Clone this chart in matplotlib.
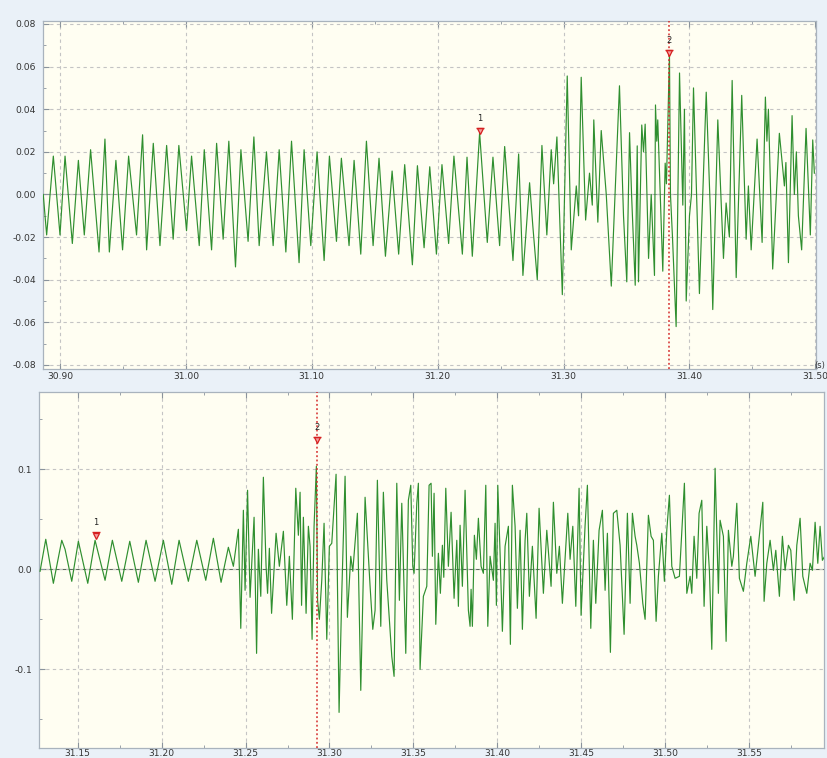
import matplotlib
matplotlib.use("Agg")
import matplotlib.pyplot as plt
from matplotlib.ticker import MultipleLocator, FormatStrFormatter, FixedLocator
import matplotlib.transforms as mtransforms

# ---------------- data ----------------
# upper record: time (s) of each extremum and its value
top_t = [30.8867, 30.8894, 30.8947, 30.9000, 30.9040, 30.9098, 30.9146, 30.9193, 30.9243, 30.9310,
         30.9357, 30.9392, 30.9444, 30.9497, 30.9545, 30.9608, 30.9656, 30.9688, 30.9741, 30.9794,
         30.9847, 30.9899, 30.9944, 31.0005, 31.0045, 31.0106, 31.0146, 31.0204, 31.0244, 31.0296,
         31.0341, 31.0394, 31.0437, 31.0494, 31.0540, 31.0582, 31.0640, 31.0693, 31.0741, 31.0794,
         31.0839, 31.0899, 31.0939, 31.0992, 31.1042, 31.1098, 31.1140, 31.1196, 31.1235, 31.1296,
         31.1336, 31.1389, 31.1434, 31.1487, 31.1534, 31.1585, 31.1638, 31.1690, 31.1738, 31.1799,
         31.1839, 31.1892, 31.1937, 31.1990, 31.2034, 31.2087, 31.2129, 31.2196, 31.2233, 31.2275,
         31.2333, 31.2394, 31.2439, 31.2492, 31.2532, 31.2598, 31.2643, 31.2677, 31.2730, 31.2756,
         31.2791, 31.2828, 31.2867, 31.2902, 31.2921, 31.2947, 31.2990, 31.3029, 31.3061, 31.3101,
         31.3119, 31.3140, 31.3175, 31.3206, 31.3228, 31.3240, 31.3272, 31.3299, 31.3339, 31.3379,
         31.3444, 31.3476, 31.3502, 31.3524, 31.3540, 31.3569, 31.3585, 31.3595, 31.3621, 31.3635,
         31.3648, 31.3675, 31.3696, 31.3722, 31.3730, 31.3740, 31.3748, 31.3788, 31.3807, 31.3817,
         31.3841, 31.3849, 31.3865, 31.3894, 31.3921, 31.3947, 31.3960, 31.3974, 31.4000, 31.4016,
         31.4032, 31.4079, 31.4133, 31.4167, 31.4185, 31.4225, 31.4270, 31.4291, 31.4317, 31.4339,
         31.4371, 31.4415, 31.4450, 31.4468, 31.4490, 31.4537, 31.4577, 31.4603, 31.4615, 31.4627,
         31.4661, 31.4714, 31.4754, 31.4766, 31.4786, 31.4815, 31.4833, 31.4849, 31.4865, 31.4891,
         31.4926, 31.4960, 31.4979, 31.4992]
top_v = [0.000, -0.019, 0.018, -0.019, 0.018, -0.023, 0.016, -0.019, 0.021, -0.027,
         0.026, -0.027, 0.016, -0.026, 0.018, -0.019, 0.028, -0.026, 0.024, -0.024,
         0.023, -0.021, 0.023, -0.017, 0.018, -0.024, 0.021, -0.026, 0.024, -0.021,
         0.025, -0.034, 0.021, -0.022, 0.027, -0.024, 0.020, -0.024, 0.021, -0.027,
         0.025, -0.032, 0.021, -0.024, 0.020, -0.031, 0.018, -0.022, 0.017, -0.024,
         0.016, -0.028, 0.025, -0.024, 0.017, -0.029, 0.011, -0.028, 0.014, -0.033,
         0.0135, -0.025, 0.013, -0.028, 0.014, -0.023, 0.018, -0.028, 0.0175, -0.029,
         0.029, -0.0225, 0.0175, -0.024, 0.0225, -0.031, 0.019, -0.038, 0.0055, -0.015,
         -0.040, 0.023, -0.019, 0.021, 0.005, 0.027, -0.047, 0.0556, -0.026, 0.004,
         -0.010, 0.055, -0.012, 0.010, -0.005, 0.035, -0.013, 0.030, 0.000, -0.043,
         0.051, -0.010, -0.041, 0.029, 0.000, -0.0426, 0.0228, -0.041, 0.0326, 0.020,
         0.033, -0.030, 0.000, -0.038, 0.042, 0.025, 0.035, -0.036, 0.0147, 0.005,
         0.066, 0.000, -0.020, -0.062, 0.057, -0.005, 0.040, -0.050, -0.010, 0.000,
         0.050, -0.0465, 0.048, -0.010, -0.054, 0.035, -0.030, -0.004, -0.020, 0.0535,
         -0.039, 0.0465, -0.021, 0.004, -0.026, 0.026, -0.0225, 0.0457, 0.025, 0.040,
         -0.035, 0.0287, 0.004, 0.015, -0.032, 0.037, 0.000, 0.020, -0.010, -0.026,
         0.031, -0.019, 0.0256, 0.010]

# lower record: time (ms after 31.000 s) of each extremum and its value
bot_ms = [127.53, 130.93, 135.46, 140.46, 142.43, 146.42, 150.36, 155.96, 160.31, 166.27,
          170.62, 176.22, 180.99, 186.11, 190.70, 196.07, 201.01, 206.02, 210.37, 215.91,
          220.92, 226.28, 230.81, 235.40, 239.75, 242.73, 245.71, 247.14, 248.69, 249.70,
          251.19, 252.68, 255.07, 256.56, 257.63, 259.06, 260.61, 262.22, 263.11, 264.18,
          265.50, 268.18, 270.14, 272.53, 274.55, 276.10, 277.89, 279.92, 281.47, 282.48,
          283.37, 284.45, 286.06, 287.43, 288.44, 289.63, 290.82, 292.19, 292.91, 293.98,
          295.41, 296.78, 298.39, 299.94, 301.37, 303.93, 305.72, 307.33, 309.30, 310.67,
          312.69, 313.89, 316.63, 318.65, 321.22, 324.20, 325.81, 327.18, 328.55, 330.57,
          332.12, 334.15, 335.70, 337.13, 338.50, 340.11, 341.66, 343.09, 345.47, 347.02,
          348.45, 349.64, 350.42, 352.03, 352.98, 353.99, 355.96, 357.99, 359.36, 360.55,
          361.33, 362.34, 363.35, 364.90, 366.09, 367.29, 368.12, 369.31, 370.86, 372.47,
          374.26, 375.87, 376.82, 377.83, 379.20, 380.81, 382.78, 383.79, 384.39, 385.16,
          386.36, 387.55, 388.74, 390.35, 391.72, 393.15, 394.34, 395.71, 397.68, 398.69,
          399.47, 400.30, 401.67, 403.04, 404.65, 406.62, 407.81, 409.00, 410.61, 411.98,
          413.59, 414.96, 416.57, 417.58, 419.13, 420.92, 423.13, 424.91, 427.48, 429.50,
          432.06, 433.44, 435.46, 437.01, 438.80, 442.02, 443.39, 445.00, 446.79, 448.75,
          449.94, 452.33, 453.70, 455.72, 457.27, 458.70, 460.67, 462.64, 464.25, 465.62,
          467.41, 469.20, 471.22, 473.19, 475.57, 477.54, 479.15, 480.52, 482.13, 483.14,
          484.69, 486.72, 488.09, 490.05, 491.66, 493.03, 494.64, 496.01, 498.04, 499.59,
          501.02, 502.57, 504.00, 505.97, 508.53, 511.51, 512.94, 514.91, 515.91, 517.28,
          518.89, 520.26, 521.87, 523.24, 524.85, 526.40, 527.83, 529.80, 531.77, 532.78,
          534.75, 536.36, 537.73, 539.75, 540.70, 542.73, 544.28, 546.66, 548.69, 551.07,
          553.64, 555.60, 558.23, 559.00, 560.61, 562.58, 564.54, 565.97, 568.12, 569.91,
          571.52, 573.49, 574.91, 576.88, 578.49, 580.45, 582.06, 584.45, 586.42, 587.79,
          589.40, 591.00, 592.37, 593.74, 594.75]
bot_v = [-0.002, 0.030, -0.014, 0.029, 0.020, -0.012, 0.028, -0.014, 0.029, -0.011,
         0.029, -0.012, 0.028, -0.013, 0.029, -0.012, 0.029, -0.015, 0.029, -0.012,
         0.029, -0.011, 0.031, -0.013, 0.022, 0.003, 0.040, -0.059, 0.059, -0.021,
         0.079, -0.028, 0.052, -0.084, 0.020, -0.027, 0.092, 0.003, -0.024, 0.021,
         -0.044, 0.036, 0.003, 0.038, -0.036, 0.013, -0.050, 0.081, 0.034, 0.077,
         -0.036, 0.052, -0.044, 0.043, 0.023, -0.070, 0.043, 0.103, -0.031, -0.050,
         -0.011, 0.046, -0.070, 0.023, 0.026, 0.095, -0.143, -0.024, 0.093, -0.048,
         0.013, -0.002, 0.056, -0.121, 0.072, -0.017, -0.060, -0.041, 0.089, -0.057,
         0.077, -0.011, -0.050, -0.087, -0.107, 0.086, -0.031, 0.066, -0.084, 0.069,
         0.084, 0.003, -0.004, 0.066, 0.086, -0.100, -0.027, -0.017, 0.084, 0.086,
         0.013, 0.076, -0.055, 0.016, -0.024, 0.024, -0.008, 0.081, 0.003, 0.057,
         -0.029, 0.029, -0.037, 0.044, -0.017, 0.079, -0.041, -0.057, -0.020, -0.057,
         0.034, 0.010, 0.051, 0.003, -0.004, 0.084, -0.057, 0.013, -0.011, 0.046,
         -0.036, 0.084, 0.016, -0.062, 0.023, 0.043, -0.075, 0.084, 0.043, -0.039,
         0.039, -0.060, 0.029, 0.056, -0.027, 0.023, -0.049, 0.061, -0.024, 0.039,
         -0.017, 0.067, -0.004, 0.023, -0.034, 0.056, 0.010, 0.043, -0.037, 0.081,
         -0.046, 0.044, 0.084, -0.059, 0.029, -0.034, 0.039, 0.059, -0.021, 0.036,
         -0.083, 0.056, 0.059, 0.024, -0.065, 0.056, -0.034, 0.056, 0.033, 0.024,
         0.006, -0.034, -0.050, 0.054, 0.033, 0.029, -0.052, -0.007, 0.036, -0.012,
         0.039, 0.074, 0.003, -0.009, -0.007, 0.086, -0.024, -0.007, -0.024, 0.033,
         -0.009, 0.056, 0.069, -0.037, 0.043, -0.001, -0.080, 0.101, -0.024, 0.049,
         0.033, -0.072, 0.039, 0.003, 0.013, 0.066, -0.009, -0.022, 0.006, 0.033,
         -0.007, 0.024, 0.067, -0.032, 0.006, 0.029, -0.001, 0.019, -0.027, 0.033,
         -0.001, 0.024, 0.019, -0.031, 0.024, 0.051, -0.007, -0.024, 0.006, -0.001,
         0.047, 0.006, 0.043, 0.009, 0.012]

# cursor markers
top_cursor_t = [31.2333, 31.3841]
top_cursor_v = [0.0296, 0.0663]
bot_cursor_t = [31.1607, 31.2924]
bot_cursor_v = [0.0335, 0.129]
cursor_labels = ["1", "2"]

top_xticks = [30.90, 31.00, 31.10, 31.20, 31.30, 31.40, 31.50]
top_yticks = [-0.08, -0.06, -0.04, -0.02, 0.00, 0.02, 0.04, 0.06, 0.08]
bot_xticks = [31.15, 31.20, 31.25, 31.30, 31.35, 31.40, 31.45, 31.50, 31.55]
bot_yticks = [-0.1, 0.0, 0.1]
x_unit = "(s)"

# ---------------- drawing ----------------
W, H = 827, 758
fig = plt.figure(figsize=(W / 100, H / 100), dpi=100, facecolor="#EAF1F8")

def box(l, t, r, b):
    return [l / W, 1 - b / H, (r - l) / W, (b - t) / H]

ax1 = fig.add_axes(box(43, 21, 816, 369))
ax2 = fig.add_axes(box(39, 392, 824, 748))

bot_t = [31.0 + m / 1000.0 for m in bot_ms]

line_col = "#2f8f2f"
grid_col = "#c4c4c4"
spine_col = "#a9b3bd"

def style(ax, xt, yt, xfmt, yfmt, xminor, yminor, zero_col, pad_x):
    ax.set_facecolor("#FFFEF2")
    ax.xaxis.set_major_locator(FixedLocator(xt))
    ax.yaxis.set_major_locator(FixedLocator(yt))
    ax.xaxis.set_minor_locator(MultipleLocator(xminor))
    ax.yaxis.set_minor_locator(MultipleLocator(yminor))
    ax.xaxis.set_major_formatter(FormatStrFormatter(xfmt))
    ax.yaxis.set_major_formatter(FormatStrFormatter(yfmt))
    ax.grid(True, which="major", color=grid_col, ls=(0, (3, 3)), lw=0.8)
    ax.axhline(0, color=zero_col, lw=0.8, zorder=1.5)
    for s in ax.spines.values():
        s.set_color(spine_col)
        s.set_linewidth(0.9)
    ax.tick_params(which="both", direction="in", colors="#8a939c",
                   labelcolor="#333333", labelsize=6.6, top=True)
    ax.tick_params(which="major", length=4)
    ax.tick_params(which="minor", length=2.5)
    ax.tick_params(axis="x", pad=pad_x)
    ax.tick_params(axis="y", pad=5)

style(ax1, top_xticks, top_yticks, "%.2f", "%.2f", 0.05, 0.01, "#9a9a9a", 2)
style(ax2, bot_xticks, bot_yticks, "%.2f", "%.1f", 0.025, 0.05, "#5c6b5c", 1)

ax1.plot(top_t, top_v, color=line_col, lw=0.85, zorder=3)
ax2.plot(bot_t, bot_v, color=line_col, lw=0.85, zorder=3)

ax1.set_xlim(30.8865, 31.5005)
ax1.set_ylim(-0.0819, 0.0814)
ax2.set_xlim(31.1269, 31.5947)
ax2.set_ylim(-0.1786, 0.1772)

def cursors(ax, ts, vs):
    bar = mtransforms.offset_copy(ax.transData, fig=fig, x=0, y=2.6, units="points")
    for t, v, lab in zip(ts, vs, cursor_labels):
        ax.plot([t], [v], marker="v", ms=5, mfc="#f4a0a0", mec="#d62020", mew=0.9, zorder=5)
        ax.plot([t], [v], marker="_", ms=6, mec="#d62020", mew=1.0, zorder=5, transform=bar)
        ax.annotate(lab, (t, v), xytext=(0, 6), textcoords="offset points",
                    ha="center", va="bottom", fontsize=6, color="#222222", zorder=6)
    ax.axvline(ts[1], color="#d42a2a", ls=(0, (1.2, 1.6)), lw=1.1, zorder=4)

cursors(ax1, top_cursor_t, top_cursor_v)
cursors(ax2, bot_cursor_t, bot_cursor_v)

fig.text(825 / W, 1 - 365 / H, x_unit, fontsize=6, color="#333333", ha="right", va="center")

fig.savefig("out.png", dpi=100, facecolor=fig.get_facecolor())
